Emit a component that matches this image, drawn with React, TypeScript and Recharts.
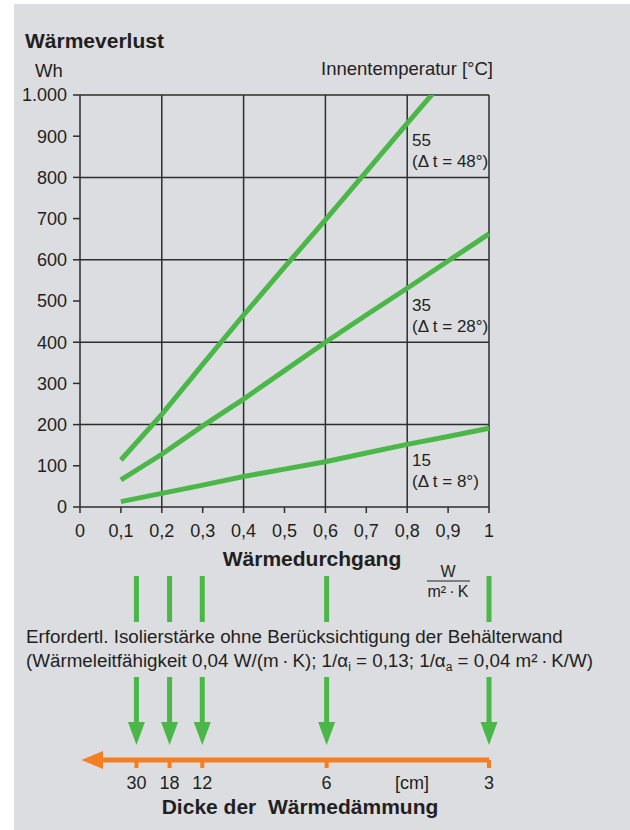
import React from 'react';
import { ComposedChart, Line, XAxis, YAxis, CartesianGrid, ReferenceLine } from 'recharts';

const FONT = '"Liberation Sans", Arial, Helvetica, sans-serif';
const TEXT = '#231f20';
const GRID = '#2d2d2d';
const GREEN = '#4bb748';
const ORANGE = '#f47e20';
const PANEL = '#dcdde0';

// Wärmedurchgang U [W/(m²·K)]
const uValues = [0.1, 0.2, 0.3, 0.4, 0.5, 0.6, 0.7, 0.8, 0.9, 1.0];
// Wärmeverlust [Wh] je Innentemperatur
const loss15 = [13, 33, 53, 74, 92, 110, 131, 152, 171, 191];
const loss35 = [66, 128, 197, 262, 331, 400, 466, 531, 597, 663];
const loss55 = [114, 225, 346, 466, 582, 697, 814, 931, 1047, null];

const xTicks = [0, 0.1, 0.2, 0.3, 0.4, 0.5, 0.6, 0.7, 0.8, 0.9, 1];
const yTicks = [0, 100, 200, 300, 400, 500, 600, 700, 800, 900, 1000];
const gridX = [0.2, 0.4, 0.6, 0.8, 1];
const gridY = [200, 400, 600, 800, 1000];

// Dämmstärke [cm] und zugehöriger Wärmedurchgang
const thicknessCm = ['30', '18', '12', '6', '3'];
const thicknessU = [0.138, 0.219, 0.299, 0.603, 1.0];

// vertical levels of the lower diagram (above its baseline)
const LEVEL = { top: 198, barTop: 192, barBottom: 146, arrowTop: 91, arrowTip: 23, axis: 8, tickEnd: 0 };

const rows = uValues.map((u, i) => ({ u, t15: loss15[i], t35: loss35[i], t55: loss55[i] }));
const arrowRows = thicknessU.map((u) => ({ u, lv: LEVEL.axis }));

const fmtU = (v: number) => (v === 0 || v === 1 ? String(v) : v.toFixed(1).replace('.', ','));
const fmtWh = (v: number) => (v === 1000 ? '1.000' : String(v));

const DownArrow = (p: any) => {
  const { x1, y1, x2, y2 } = p;
  const head = 23;
  return (
    <g>
      <line x1={x1} y1={y1} x2={x2} y2={y2 - head + 1} stroke={GREEN} strokeWidth={5} />
      <polygon points={`${x2 - 8.5},${y2 - head} ${x2 + 8.5},${y2 - head} ${x2},${y2}`} fill={GREEN} />
    </g>
  );
};

const LeftArrow = (p: any) => {
  const { x1, y1, x2 } = p;
  return (
    <g>
      <line x1={x1} y1={y1} x2={x2 + 20} y2={y1} stroke={ORANGE} strokeWidth={5} />
      <polygon points={`${x2 + 23},${y1 - 9} ${x2 + 23},${y1 + 9} ${x2 + 1.5},${y1}`} fill={ORANGE} />
    </g>
  );
};

const tickStyle = { fill: TEXT, fontSize: 18, fontFamily: FONT };

export default function App() {
  return (
    <div style={{ position: 'absolute', left: 0, top: 0, width: 630, height: 830, background: '#fff', fontFamily: FONT, overflow: 'hidden' }}>
      <div style={{ position: 'absolute', left: 14, top: 4, width: 616, height: 826, background: PANEL }} />

      <div style={{ position: 'absolute', left: 0, top: 0 }}>
        <ComposedChart width={630} height={620} data={rows} margin={{ top: 95, right: 141, bottom: 83, left: 20 }}>
          <CartesianGrid horizontalValues={gridY} verticalValues={gridX} stroke={GRID} strokeWidth={1.5} />
          <XAxis
            type="number"
            dataKey="u"
            domain={[0, 1]}
            ticks={xTicks}
            interval={0}
            tickFormatter={fmtU}
            height={30}
            tickSize={6}
            tickMargin={11}
            axisLine={{ stroke: GRID, strokeWidth: 1.5 }}
            tickLine={{ stroke: GRID, strokeWidth: 1.5 }}
            tick={tickStyle}
          />
          <YAxis
            type="number"
            domain={[0, 1000]}
            allowDataOverflow
            ticks={yTicks}
            interval={0}
            tickFormatter={fmtWh}
            width={60}
            tickSize={7}
            tickMargin={6}
            axisLine={{ stroke: GRID, strokeWidth: 1.5 }}
            tickLine={{ stroke: GRID, strokeWidth: 1.5 }}
            tick={tickStyle}
          />
          <Line dataKey="t15" stroke={GREEN} strokeWidth={5} dot={false} isAnimationActive={false} strokeLinecap="butt" />
          <Line dataKey="t35" stroke={GREEN} strokeWidth={5} dot={false} isAnimationActive={false} strokeLinecap="butt" />
          <Line dataKey="t55" stroke={GREEN} strokeWidth={5} dot={false} isAnimationActive={false} strokeLinecap="butt" />
        </ComposedChart>
      </div>

      <div style={{ position: 'absolute', left: 0, top: 570 }}>
        <ComposedChart width={630} height={260} data={arrowRows} margin={{ top: 0, right: 141, bottom: 0, left: 80 }}>
          <XAxis
            type="number"
            dataKey="u"
            domain={[0, 1]}
            ticks={thicknessU}
            interval={0}
            tickFormatter={(v: number, i: number) => thicknessCm[i]}
            height={62}
            tickSize={6}
            tickMargin={2}
            axisLine={false}
            tickLine={false}
            tick={tickStyle}
          />
          <YAxis hide type="number" dataKey="lv" domain={[LEVEL.tickEnd, LEVEL.top]} allowDataOverflow />
          <Line dataKey="lv" stroke="none" dot={false} activeDot={false} isAnimationActive={false} />
          {thicknessU.map((u) => (
            <ReferenceLine
              key={`bar-${u}`}
              segment={[{ x: u, y: LEVEL.barTop }, { x: u, y: LEVEL.barBottom }]}
              stroke={GREEN}
              strokeWidth={5}
              ifOverflow="visible"
            />
          ))}
          {thicknessU.map((u) => (
            <ReferenceLine
              key={`arrow-${u}`}
              segment={[{ x: u, y: LEVEL.arrowTop }, { x: u, y: LEVEL.arrowTip }]}
              shape={DownArrow}
              ifOverflow="visible"
            />
          ))}
          <ReferenceLine
            segment={[{ x: 1, y: LEVEL.axis }, { x: 0, y: LEVEL.axis }]}
            shape={LeftArrow}
            ifOverflow="visible"
          />
          {thicknessU.map((u) => (
            <ReferenceLine
              key={`tick-${u}`}
              segment={[{ x: u, y: LEVEL.axis }, { x: u, y: LEVEL.tickEnd }]}
              stroke={ORANGE}
              strokeWidth={4}
              ifOverflow="visible"
            />
          ))}
        </ComposedChart>
      </div>

      <svg width={630} height={830} style={{ position: 'absolute', left: 0, top: 0, pointerEvents: 'none' }} fontFamily={FONT} fill={TEXT}>
        <text x={25} y={48} fontSize={21} fontWeight="bold">Wärmeverlust</text>
        <text x={35} y={77} fontSize={18.5}>Wh</text>
        <text x={493} y={75} fontSize={18.5} textAnchor="end">Innentemperatur [°C]</text>

        <text x={412} y={146} fontSize={17}>55</text>
        <text x={412} y={167} fontSize={17}>(Δ t = 48°)</text>
        <text x={412} y={311} fontSize={17}>35</text>
        <text x={412} y={332} fontSize={17}>(Δ t = 28°)</text>
        <text x={412} y={466} fontSize={17}>15</text>
        <text x={412} y={487} fontSize={17}>(Δ t = 8°)</text>

        <text x={312} y={566} fontSize={21} fontWeight="bold" textAnchor="middle">Wärmedurchgang</text>
        <text x={448} y={577} fontSize={16} textAnchor="middle">W</text>
        <line x1={427} y1={581} x2={470} y2={581} stroke={TEXT} strokeWidth={1} />
        <text x={448} y={597} fontSize={16} textAnchor="middle">m²{'\u2009'}·{'\u2009'}K</text>

        <text x={26} y={643} fontSize={18.8}>Erfordertl. Isolierstärke ohne Berücksichtigung der Behälterwand</text>
        <text x={26} y={667} fontSize={18.8}>
          (Wärmeleitfähigkeit 0,04 W/(m{'\u2009'}·{'\u2009'}K); 1/α
          <tspan dy={4} fontSize={12}>i</tspan>
          <tspan dy={-4}> = 0,13; 1/α</tspan>
          <tspan dy={4} fontSize={12}>a</tspan>
          <tspan dy={-4}> = 0,04 m²{'\u2009'}·{'\u2009'}K/W)</tspan>
        </text>

        <text x={412} y={789} fontSize={18} textAnchor="middle">[cm]</text>
        <text x={300} y={814} fontSize={21} fontWeight="bold" textAnchor="middle" style={{ whiteSpace: 'pre' }}>Dicke der  Wärmedämmung</text>
      </svg>
    </div>
  );
}
